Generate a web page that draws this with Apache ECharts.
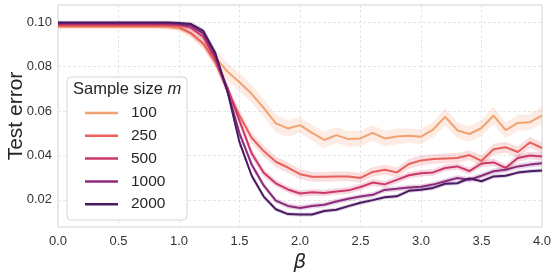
<!DOCTYPE html>
<html>
<head>
<meta charset="utf-8">
<script src="https://cdn.jsdelivr.net/npm/echarts@6/dist/echarts.min.js"></script>
<style>
html,body{margin:0;padding:0;background:#fff;}
#chart{width:560px;height:276px;}
</style>
</head>
<body>
<div id="chart"></div>
<script>
// beta values (x axis)
const beta = [0.0,0.1,0.2,0.3,0.4,0.5,0.6,0.7,0.8,0.9,1.0,1.1,1.2,1.3,1.4,1.5,1.6,1.7,1.8,1.9,2.0,
              2.1,2.2,2.3,2.4,2.5,2.6,2.7,2.8,2.9,3.0,3.1,3.2,3.3,3.4,3.5,3.6,3.7,3.8,3.9,4.0];

const sampleSizes = ['100','250','500','1000','2000'];

// mean test error per sample size
const err100 = [0.0979,0.0979,0.0979,0.0979,0.0979,0.0979,0.0979,0.0979,0.0979,0.0978,
  0.0972,0.0952,0.0905,0.0842,0.0778,0.0730,0.0678,0.0615,0.0545,0.0522,0.0537,
  0.0502,0.0470,0.0492,0.0474,0.0477,0.0502,0.0477,0.0486,0.0489,0.0485,
  0.0517,0.0574,0.0514,0.0497,0.0524,0.0580,0.0514,0.0547,0.0550,0.0580];
const err250 = [0.0985,0.0985,0.0985,0.0985,0.0985,0.0985,0.0985,0.0985,0.0985,0.0984,
  0.0980,0.0950,0.0905,0.0820,0.0695,0.0580,0.0480,0.0420,0.0372,0.0346,0.0316,
  0.0304,0.0304,0.0306,0.0306,0.0299,0.0326,0.0336,0.0324,0.0362,0.0378,
  0.0384,0.0387,0.0389,0.0402,0.0376,0.0428,0.0437,0.0416,0.0459,0.0434];
const err500 = [0.0990,0.0990,0.0990,0.0990,0.0990,0.0990,0.0990,0.0990,0.0990,0.0990,
  0.0988,0.0975,0.0935,0.0835,0.0705,0.0556,0.0410,0.0322,0.0275,0.0247,0.0229,
  0.0234,0.0231,0.0238,0.0243,0.0258,0.0278,0.0270,0.0290,0.0311,0.0320,
  0.0324,0.0344,0.0351,0.0330,0.0364,0.0369,0.0344,0.0389,0.0400,0.0396];
const err1000 = [0.0996,0.0996,0.0996,0.0996,0.0996,0.0996,0.0996,0.0996,0.0996,0.0996,
  0.0994,0.0985,0.0950,0.0850,0.0690,0.0500,0.0360,0.0265,0.0197,0.0173,0.0164,
  0.0173,0.0178,0.0193,0.0205,0.0215,0.0223,0.0245,0.0250,0.0256,0.0259,
  0.0269,0.0284,0.0299,0.0291,0.0309,0.0329,0.0336,0.0351,0.0359,0.0365];
const err2000 = [0.0999,0.0999,0.0999,0.0999,0.0999,0.0999,0.0999,0.0999,0.0999,0.0999,
  0.0997,0.0992,0.0962,0.0862,0.0690,0.0460,0.0310,0.0215,0.0158,0.0136,0.0134,
  0.0134,0.0150,0.0156,0.0172,0.0187,0.0199,0.0212,0.0216,0.0241,0.0246,
  0.0254,0.0273,0.0275,0.0297,0.0284,0.0306,0.0309,0.0323,0.0329,0.0333];

// confidence-band half widths per sample size
const ci100 = [0.0010,0.0010,0.0010,0.0010,0.0010,0.0010,0.0010,0.0010,0.0010,0.0011,
  0.0013,0.0020,0.0028,0.0035,0.0040,0.0040,0.0040,0.0040,0.0040,0.0038,0.0035,
  0.0035,0.0037,0.0035,0.0035,0.0035,0.0035,0.0035,0.0035,0.0033,0.0033,
  0.0035,0.0040,0.0035,0.0035,0.0035,0.0040,0.0035,0.0035,0.0035,0.0040];
const ci250 = [0.0008,0.0008,0.0008,0.0008,0.0008,0.0008,0.0008,0.0008,0.0008,0.0008,
  0.0010,0.0015,0.0020,0.0025,0.0025,0.0025,0.0025,0.0025,0.0025,0.0024,0.0023,
  0.0022,0.0022,0.0022,0.0022,0.0022,0.0022,0.0022,0.0022,0.0022,0.0022,
  0.0022,0.0022,0.0022,0.0022,0.0024,0.0025,0.0025,0.0025,0.0025,0.0025];
const ci500 = [0.0007,0.0007,0.0007,0.0007,0.0007,0.0007,0.0007,0.0007,0.0007,0.0007,
  0.0008,0.0012,0.0016,0.0020,0.0020,0.0020,0.0020,0.0018,0.0016,0.0015,0.0015,
  0.0015,0.0015,0.0015,0.0015,0.0015,0.0015,0.0015,0.0015,0.0015,0.0015,
  0.0015,0.0015,0.0015,0.0016,0.0016,0.0016,0.0017,0.0017,0.0017,0.0017];
const ci1000 = [0.0008,0.0008,0.0008,0.0008,0.0008,0.0008,0.0008,0.0008,0.0008,0.0008,
  0.0008,0.0010,0.0014,0.0018,0.0018,0.0018,0.0016,0.0014,0.0012,0.0012,0.0012,
  0.0012,0.0012,0.0012,0.0012,0.0012,0.0012,0.0012,0.0012,0.0012,0.0012,
  0.0012,0.0012,0.0012,0.0012,0.0012,0.0013,0.0013,0.0013,0.0013,0.0013];
const ci2000 = [0.0008,0.0008,0.0008,0.0008,0.0008,0.0008,0.0008,0.0008,0.0008,0.0008,
  0.0008,0.0009,0.0012,0.0015,0.0015,0.0015,0.0013,0.0011,0.0009,0.0009,0.0009,
  0.0009,0.0009,0.0009,0.0009,0.0009,0.0009,0.0009,0.0009,0.0009,0.0009,
  0.0009,0.0009,0.0009,0.0009,0.0009,0.0009,0.0009,0.0009,0.0009,0.0009];

const xTicks = [0.0,0.5,1.0,1.5,2.0,2.5,3.0,3.5,4.0];
const yTicks = [0.02,0.04,0.06,0.08,0.10];

const colors = ['#f2a271','#e8605b','#cc3765','#8c2a7c','#4a1b62'];
const means = [err100, err250, err500, err1000, err2000];
const cis = [ci100, ci250, ci500, ci1000, ci2000];

const series = [];
sampleSizes.forEach((name, k) => {
  const vals = means[k], ci = cis[k], col = colors[k];
  series.push({
    type: 'custom',
    coordinateSystem: 'cartesian2d',
    silent: true,
    z: 2 + 2 * k,
    data: beta.map((b, i) => [b, vals[i]]),
    encode: {x: 0, y: 1},
    clip: true,
    renderItem: function (params, api) {
      if (params.dataIndex !== 0) return;
      const pts = [];
      for (let i = 0; i < beta.length; i++) pts.push(api.coord([beta[i], vals[i] + ci[i]]));
      for (let i = beta.length - 1; i >= 0; i--) pts.push(api.coord([beta[i], vals[i] - ci[i]]));
      return {type: 'polygon', shape: {points: pts}, style: {fill: col, opacity: 0.2}};
    }
  });
  series.push({
    name: name,
    type: 'line',
    z: 3 + 2 * k,
    showSymbol: false,
    symbol: 'none',
    data: beta.map((b, i) => [b, vals[i]]),
    lineStyle: {color: col, width: 2},
    itemStyle: {color: col}
  });
});

const chart = echarts.init(document.getElementById('chart'), null, {renderer: 'canvas'});
const FONT = 'Liberation Sans, Arial, sans-serif';
chart.setOption({
  animation: false,
  backgroundColor: '#ffffff',
  grid: {left: 58, right: 18, top: 5, bottom: 49, containLabel: false, outerBoundsMode: 'none',
    show: true, borderColor: '#d6d6d6', borderWidth: 1, backgroundColor: 'transparent'},
  xAxis: {
    type: 'value', min: xTicks[0], max: xTicks[xTicks.length - 1], interval: 0.5,
    name: 'β', nameLocation: 'middle', nameGap: 26, nameMoveOverlap: false,
    nameTextStyle: {fontFamily: 'DejaVu Sans', fontStyle: 'italic', fontSize: 20, color: '#262626'},
    axisLine: {show: false}, axisTick: {show: false},
    axisLabel: {fontFamily: FONT, fontSize: 13, color: '#333', margin: 8, formatter: v => v.toFixed(1)},
    splitLine: {show: true, lineStyle: {color: '#e6e6e6', width: 1, type: [3, 2]}}
  },
  yAxis: {
    type: 'value', min: 0.0078, max: 0.1078, splitNumber: 5,
    name: 'Test error', nameLocation: 'middle', nameGap: 31, nameRotate: 90, nameMoveOverlap: false,
    nameTextStyle: {fontFamily: FONT, fontSize: 21, color: '#262626'},
    axisLine: {show: false}, axisTick: {show: false},
    axisLabel: {fontFamily: FONT, fontSize: 13, color: '#333', margin: 6, showMinLabel: false, showMaxLabel: false,
      formatter: v => yTicks.some(t => Math.abs(t - v) < 1e-6) ? v.toFixed(2) : ''},
    splitLine: {show: true, lineStyle: {color: '#e6e6e6', width: 1, type: [3, 2]}}
  },
  legend: {
    orient: 'vertical', left: 85, top: 105, itemGap: 6.8, padding: 0,
    itemWidth: 33, itemHeight: 2.5, icon: 'rect',
    data: sampleSizes,
    textStyle: {fontFamily: FONT, fontSize: 15.5, color: '#262626', padding: [0, 0, 0, 8]},
    selectedMode: false, z: 101
  },
  graphic: [
    {type: 'rect', left: 66.5, top: 76.5, z: 100,
      shape: {width: 120, height: 143, r: 4},
      style: {fill: 'rgba(255,255,255,0.85)', stroke: '#d6d6d6', lineWidth: 1}},
    {type: 'text', left: 73, top: 81, z: 101,
      style: {text: '{a|Sample size }{b|m}', rich: {
        a: {fontFamily: FONT, fontSize: 16.5, fill: '#262626'},
        b: {fontFamily: FONT, fontSize: 16.5, fontStyle: 'italic', fill: '#262626'}}}}
  ],
  series: series
});
</script>
</body>
</html>
